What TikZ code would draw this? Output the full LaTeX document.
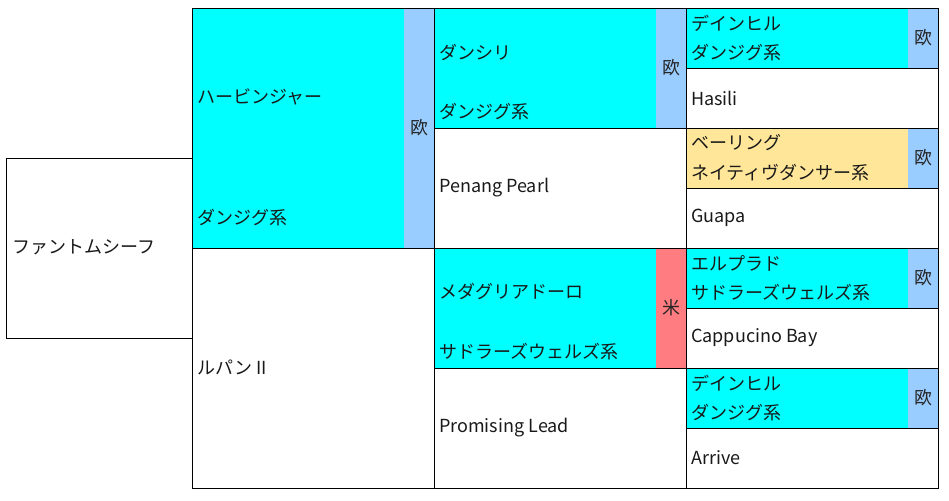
\documentclass[tikz,border=0pt]{standalone}
\usepackage{fontspec}
\setmainfont{Noto Sans CJK JP}
\definecolor{cyanc}{HTML}{00FFFF}
\definecolor{bluec}{HTML}{99CCFF}
\definecolor{yellowc}{HTML}{FFE699}
\definecolor{redc}{HTML}{FF7C80}
\tikzset{
  cell/.style={anchor=north west, inner sep=0pt, outer sep=0pt, draw=none},
  badge/.style={anchor=north west, inner sep=0pt, outer sep=0pt, minimum width=30pt, draw=none, font=\fontsize{18}{20}\selectfont, text=black!85},
  txt/.style={anchor=west, inner sep=0pt, font=\fontsize{18}{20}\selectfont, text=black!90},
  border/.style={draw=black, line width=0.9pt}
}
\begin{document}
\begin{tikzpicture}[x=1pt,y=-1pt]
\useasboundingbox (0,0) rectangle (949,500);
% cells
\node[cell, minimum width=186pt, minimum height=180pt] (root) at (6,158) {};
\node[cell, fill=cyanc, minimum width=242pt, minimum height=240pt] (c1a) at (192,8) {};
\node[cell, minimum width=242pt, minimum height=240pt] (c1b) at (192,248) {};
\node[cell, fill=cyanc, minimum width=252pt, minimum height=120pt] (c2a) at (434,8) {};
\node[cell, minimum width=252pt, minimum height=120pt] (c2b) at (434,128) {};
\node[cell, fill=cyanc, minimum width=252pt, minimum height=120pt] (c2c) at (434,248) {};
\node[cell, minimum width=252pt, minimum height=120pt] (c2d) at (434,368) {};
\node[cell, fill=cyanc, minimum width=252pt, minimum height=60pt] (c3a) at (686,8) {};
\node[cell, minimum width=252pt, minimum height=60pt] (c3b) at (686,68) {};
\node[cell, fill=yellowc, minimum width=252pt, minimum height=60pt] (c3c) at (686,128) {};
\node[cell, minimum width=252pt, minimum height=60pt] (c3d) at (686,188) {};
\node[cell, fill=cyanc, minimum width=252pt, minimum height=60pt] (c3e) at (686,248) {};
\node[cell, minimum width=252pt, minimum height=60pt] (c3f) at (686,308) {};
\node[cell, fill=cyanc, minimum width=252pt, minimum height=60pt] (c3g) at (686,368) {};
\node[cell, minimum width=252pt, minimum height=60pt] (c3h) at (686,428) {};
% badges
\node[badge, fill=bluec, minimum height=240pt] (b1a) at (404,8) {欧};
\node[badge, fill=bluec, minimum height=120pt] (b2a) at (656,8) {欧};
\node[badge, fill=redc, minimum height=120pt] (b2c) at (656,248) {米};
\node[badge, fill=bluec, minimum height=60pt] (b3a) at (908,8) {欧};
\node[badge, fill=bluec, minimum height=60pt] (b3c) at (908,128) {欧};
\node[badge, fill=bluec, minimum height=60pt] (b3e) at (908,248) {欧};
\node[badge, fill=bluec, minimum height=60pt] (b3g) at (908,368) {欧};
% borders
\foreach \n in {root,c1a,c1b,c2a,c2b,c2c,c2d,c3a,c3b,c3c,c3d,c3e,c3f,c3g,c3h}
  \draw[border] (\n.north west) rectangle (\n.south east);
% texts
\node[txt] (t0) at (12,247) {ファントムシーフ};
\node[txt] (t1a) at (197,97) {ハービンジャー};
\node[txt] (t1al) at (197,218) {ダンジグ系};
\node[txt] (t1b) at (197,367) {ルパン\kern4pt II};
\node[txt] (t2a) at (439,52) {ダンシリ};
\node[txt] (t2al) at (439,112) {ダンジグ系};
\node[txt] (t2b) at (439,188) {Penang Pearl};
\node[txt] (t2c) at (439,292) {メダグリアドーロ};
\node[txt] (t2cl) at (439,352) {サドラーズウェルズ系};
\node[txt] (t2d) at (439,428) {Promising Lead};
\node[txt] (t3a) at (691,23) {デインヒル};
\node[txt] (t3al) at (691,53) {ダンジグ系};
\node[txt] (t3b) at (691,98) {Hasili};
\node[txt] (t3c) at (691,143) {ベーリング};
\node[txt] (t3cl) at (691,173) {ネイティヴダンサー系};
\node[txt] (t3d) at (691,218) {Guapa};
\node[txt] (t3e) at (691,263) {エルプラド};
\node[txt] (t3el) at (691,293) {サドラーズウェルズ系};
\node[txt] (t3f) at (691,338) {Cappucino Bay};
\node[txt] (t3g) at (691,383) {デインヒル};
\node[txt] (t3gl) at (691,413) {ダンジグ系};
\node[txt] (t3h) at (691,458) {Arrive};
\end{tikzpicture}
\end{document}
